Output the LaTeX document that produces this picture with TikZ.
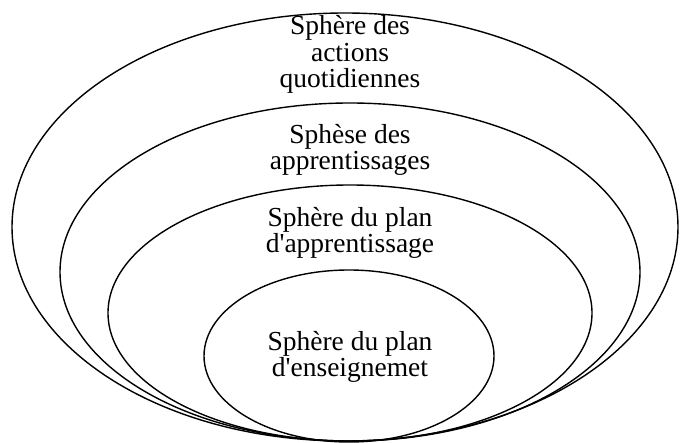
\documentclass[tikz,border=0pt]{standalone}
\usepackage{fontspec}
\setmainfont{Liberation Serif}
\usepackage{tikz}
\usetikzlibrary{positioning}
\usetikzlibrary{shapes.geometric}

\begin{document}
\begin{tikzpicture}
[
x=1pt, y=-1pt,
sphere-a/.style={ellipse,draw,line width=1.4pt,inner sep=0pt},
text-a/.style={black,align=center,font=\fontsize{27.5}{26.5}\selectfont,inner sep=0pt},
]
\useasboundingbox (0,0) rectangle (680,443);
\node (s1) [sphere-a, minimum width=666pt, minimum height=428pt] at (345,227) {};
\node (s2) [sphere-a, minimum width=580pt, minimum height=338pt] at (350,272) {};
\node (s3) [sphere-a, minimum width=484pt, minimum height=256pt] at (350,313) {};
\node (s4) [sphere-a, minimum width=290pt, minimum height=172pt] at (349,356) {};
\node (l1) [text-a, anchor=base] at (350,88)  {Sphère des \\ actions \\ quotidiennes};
\node (l2) [text-a, anchor=base] at (350,170) {Sphèse des \\ apprentissages};
\node (l3) [text-a, anchor=base] at (350,253) {Sphère du plan \\ d\textquotesingle apprentissage};
\node (l4) [text-a, anchor=base] at (350,377) {Sphère du plan \\ d\textquotesingle enseignemet};
\end{tikzpicture}
\end{document}
